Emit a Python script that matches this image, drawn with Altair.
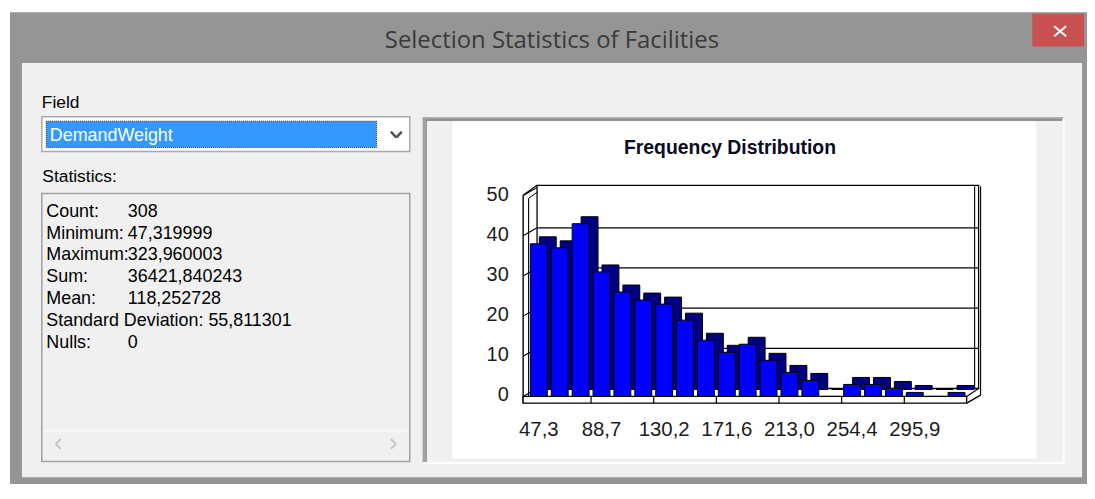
import altair as alt
import pandas as pd

# ---------------- data ----------------
counts = [38, 37, 43, 31, 26, 24, 23, 19, 14, 11, 13, 9, 6, 4, 0, 3, 3, 2, 1, 0, 1]
x_tick_labels = ["47,3", "88,7", "130,2", "171,6", "213,0", "254,4", "295,9"]
x_tick_step = 3
y_ticks = [0, 10, 20, 30, 40, 50]
stat_names = ["Count:", "Minimum:", "Maximum:", "Sum:", "Mean:",
              "Standard Deviation:", "Nulls:"]
stat_values = ["308", "47,319999", "323,960003", "36421,840243", "118,252728",
               "55,811301", "0"]
window_title = "Selection Statistics of Facilities"
chart_title = "Frequency Distribution"
field_label = "Field"
field_value = "DemandWeight"
stats_label = "Statistics:"

# ---------------- helpers (page coords -> chart coords) ----------------
M = 8
one = pd.DataFrame({"k": [0]})
FONT = "Liberation Sans"
HALF = 0.405  # half of the bar's front width, in bin units


def box(x1, y1, x2, y2, **kw):
    return alt.Chart(one).mark_rect(**kw).encode(
        x=alt.value(x1 - M), x2=alt.value(x2 - M),
        y=alt.value(y1 - M), y2=alt.value(y2 - M))


def seg(x1, y1, x2, y2, color="black", width=1.0, **kw):
    return alt.Chart(one).mark_rule(color=color, strokeWidth=width, **kw).encode(
        x=alt.value(x1 - M), x2=alt.value(x2 - M),
        y=alt.value(y1 - M), y2=alt.value(y2 - M))


def txt(s, x, y, **kw):
    kw.setdefault("font", FONT)
    return alt.Chart(one).mark_text(text=s, **kw).encode(
        x=alt.value(x - M), y=alt.value(y - M))


n = len(counts)
XS = alt.Scale(domain=[-0.5, n - 0.5], range=[531.3 - M, 972.3 - M],
               nice=False, zero=False)
YS = alt.Scale(domain=[0, 50], range=[397.3 - M, 195.3 - M], nice=False)

bar_df = pd.DataFrame({"idx": list(range(n)), "count": counts})
tick_df = pd.DataFrame({"tick": y_ticks})
xlab_df = pd.DataFrame({"idx": [i * x_tick_step for i in range(len(x_tick_labels))],
                        "lab": x_tick_labels})
div_df = pd.DataFrame({"idx": [i * x_tick_step for i in range(1, len(x_tick_labels))]})
stats_df = pd.DataFrame({"row": list(range(len(stat_names))),
                         "name": stat_names, "value": stat_values})

layers = []

# ---------------- window chrome ----------------
layers.append(box(10, 11, 1100, 495, fill="#959595"))
layers.append(box(22, 62, 1088, 478.5, fill="#f0f0f0"))
layers.append(box(1038, 12.5, 1090, 45.5, fill="#c75050"))
layers.append(seg(1060, 25, 1072, 35, color="white", width=2))
layers.append(seg(1060, 35, 1072, 25, color="white", width=2))
layers.append(txt(window_title, 555, 46.5, fontSize=24, font="Open Sans",
                  color="#3a3a3a", align="center", baseline="alphabetic"))

# ---------------- left panel ----------------
layers.append(txt(field_label, 42, 107, fontSize=17.5, color="#000",
                  align="left", baseline="alphabetic"))
layers.append(box(42, 116, 412, 151, fill="white", stroke="#a9a9a9", strokeWidth=1.5))
layers.append(box(46.5, 120.5, 378.5, 147, fill="#3399ff", stroke="#3a2a10",
                  strokeWidth=1, strokeDash=[1, 1]))
layers.append(txt(field_value, 50, 140.5, fontSize=18, color="white",
                  align="left", baseline="alphabetic"))
layers.append(seg(393, 131, 398.5, 137, color="#555", width=2.5))
layers.append(seg(398.5, 137, 404, 131, color="#555", width=2.5))
layers.append(txt(stats_label, 42.5, 181.5, fontSize=17.5, color="#000",
                  align="left", baseline="alphabetic"))
layers.append(box(42, 193.3, 412, 462.7, fill="#f0f0f0", stroke="#a0a0a0",
                  strokeWidth=1.5))
layers.append(seg(43, 431.7, 411, 431.7, color="#fbfbfb", width=1.5))
layers.append(seg(61, 440, 56, 445, color="#c4c4c4", width=2))
layers.append(seg(56, 445, 61, 450, color="#c4c4c4", width=2))
layers.append(seg(393, 440, 398, 445, color="#c4c4c4", width=2))
layers.append(seg(398, 445, 393, 450, color="#c4c4c4", width=2))

row_y = alt.Y("row:O", scale=alt.Scale(domain=list(range(len(stat_names))),
                                       range=[216.7 - M, 348.3 - M], padding=0),
              axis=None)
stat_lab = alt.Chart(stats_df).transform_calculate(
    line="length(datum.name) > 12 ? datum.name + ' ' + datum.value : datum.name"
).mark_text(font=FONT, fontSize=18, color="#000", align="left",
            baseline="alphabetic").encode(x=alt.value(46.5 - M), y=row_y,
                                          text="line:N")
stat_val = alt.Chart(stats_df).transform_filter(
    "length(datum.name) <= 12"
).mark_text(font=FONT, fontSize=18, color="#000", align="left",
            baseline="alphabetic").encode(x=alt.value(128.5 - M), y=row_y,
                                          text="value:N")
layers += [stat_lab, stat_val]

# ---------------- chart panel ----------------
layers.append(box(425, 116.7, 1070, 465, fill="#f0f0f0"))
layers.append(seg(425, 118, 1070, 118, color="#a0a0a0", width=3))
layers.append(seg(426.5, 117, 426.5, 465, color="#a0a0a0", width=3))
layers.append(seg(428.5, 119.5, 1068, 119.5, color="#6f6f6f", width=1))
layers.append(seg(428.5, 119.5, 428.5, 463, color="#6f6f6f", width=1))
layers.append(seg(425, 464.2, 1070, 464.2, color="white", width=2))
layers.append(seg(1069.5, 117, 1069.5, 465, color="white", width=2))
layers.append(box(455, 120.7, 1042, 460, fill="white"))

layers.append(txt(chart_title, 734, 153.3, fontSize=19.5, fontWeight="bold",
                  color="#0b0b1e", align="center", baseline="alphabetic"))

# 3D frame: back wall + grid
layers.append(box(540, 185, 984, 389.3, fill="white", stroke="black", strokeWidth=1.3))
layers.append(seg(980, 186, 980, 389, width=1.1))
grid = alt.Chart(tick_df).transform_filter("datum.tick > 0 && datum.tick < 50").mark_rule(
    color="black", strokeWidth=1.3, yOffset=-8).encode(
    x=alt.value(540 - M), x2=alt.value(984 - M),
    y=alt.Y("tick:Q", scale=YS, axis=None))
wall_ticks = alt.Chart(tick_df).mark_rule(
    color="black", strokeWidth=1.1, y2Offset=-8).encode(
    x=alt.value(526 - M), x2=alt.value(540 - M),
    y=alt.Y("tick:Q", scale=YS, axis=None), y2=alt.Y2("tick:Q"))
layers += [grid, wall_ticks]
layers.append(seg(526, 195, 526, 404, width=1.4))
layers.append(seg(531.5, 198, 531.5, 398, width=1.1))
layers.append(seg(526, 195, 540, 185, width=1.3))
layers.append(seg(531.5, 198, 540, 192, width=1.0))

# floor front band
layers.append(box(526, 397.3, 972, 404, fill="white", stroke="black", strokeWidth=1.3))
layers.append(seg(972, 404, 986, 396, width=1.3))
layers.append(seg(972, 397.3, 984, 389.3, width=1.1))
layers.append(seg(986, 186, 986, 396, width=1.1))
dividers = alt.Chart(div_df).transform_calculate(edge="datum.idx - 0.5").mark_rule(
    color="black", strokeWidth=1.2).encode(
    x=alt.X("edge:Q", scale=XS, axis=None),
    y=alt.value(397.3 - M), y2=alt.value(404 - M))
layers.append(dividers)

# bars: dark side/top faces then blue front faces
bars_base = alt.Chart(bar_df).transform_calculate(
    lo=f"datum.idx - {HALF}", hi=f"datum.idx + {HALF}", base="0")
navy = bars_base.mark_bar(
    color="#000080", stroke="black", strokeWidth=1,
    xOffset=9, x2Offset=9, yOffset=-7, y2Offset=-7).encode(
    x=alt.X("lo:Q", scale=XS, axis=None), x2="hi:Q",
    y=alt.Y("count:Q", scale=YS, axis=None), y2="base:Q")
front = bars_base.mark_bar(
    color="#0000ff", stroke="black", strokeWidth=1).encode(
    x=alt.X("lo:Q", scale=XS, axis=None), x2="hi:Q",
    y=alt.Y("count:Q", scale=YS, axis=None), y2="base:Q")
layers += [navy, front]

# axis labels
ylabels = alt.Chart(tick_df).mark_text(
    font=FONT, fontSize=20, color="#1c1c1c", align="right", baseline="middle",
    dy=-1).encode(x=alt.value(511.5 - M),
                  y=alt.Y("tick:Q", scale=YS, axis=None),
                  text=alt.Text("tick:Q"))
xlabels = alt.Chart(xlab_df).mark_text(
    font=FONT, fontSize=20.5, color="#1c1c1c", align="center",
    baseline="alphabetic").encode(
    x=alt.X("idx:Q", scale=XS, axis=None),
    y=alt.value(436.7 - M), text="lab:N")
layers += [ylabels, xlabels]

chart = alt.layer(*layers).resolve_scale(x="independent", y="independent").properties(
    width=1085, height=476, autosize=alt.AutoSizeParams(type="none"),
    padding=0, background="white"
).configure_view(stroke=None)

chart.save("out.html", embed_options={"renderer": "svg", "actions": False})
